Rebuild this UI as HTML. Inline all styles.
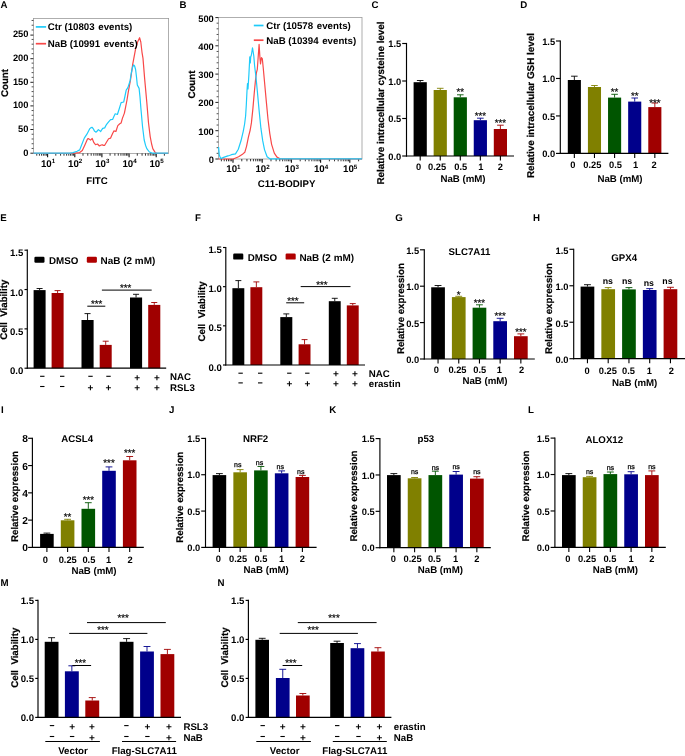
<!DOCTYPE html>
<html><head><meta charset="utf-8"><title>Figure</title>
<style>
html,body{margin:0;padding:0;background:#fff;}
body{width:685px;height:756px;overflow:hidden;}
svg{display:block;font-family:"Liberation Sans",Arial,Helvetica,sans-serif;}
svg text{text-rendering:geometricPrecision;}
</style></head><body>
<svg width="685" height="756" viewBox="0 0 685 756">
<rect x="0" y="0" width="685" height="756" fill="#ffffff"/>
<text x="0.5" y="7.57" font-size="9.7" text-anchor="start" font-weight="bold" fill="#000">A</text>
<rect x="33.4" y="18.4" width="135.2" height="135" fill="none" stroke="#9a9a9a" stroke-width="0.8"/>
<line x1="30.4" y1="153.2" x2="33.4" y2="153.2" stroke="#222" stroke-width="1"/>
<text x="28.4" y="155.53" font-size="9.3" text-anchor="end" font-weight="bold" fill="#000">0</text>
<line x1="30.4" y1="129.5" x2="33.4" y2="129.5" stroke="#222" stroke-width="1"/>
<text x="28.4" y="131.83" font-size="9.3" text-anchor="end" font-weight="bold" fill="#000">50</text>
<line x1="30.4" y1="105.9" x2="33.4" y2="105.9" stroke="#222" stroke-width="1"/>
<text x="28.4" y="108.23" font-size="9.3" text-anchor="end" font-weight="bold" fill="#000">100</text>
<line x1="30.4" y1="82.3" x2="33.4" y2="82.3" stroke="#222" stroke-width="1"/>
<text x="28.4" y="84.63" font-size="9.3" text-anchor="end" font-weight="bold" fill="#000">150</text>
<line x1="30.4" y1="58.7" x2="33.4" y2="58.7" stroke="#222" stroke-width="1"/>
<text x="28.4" y="61.03" font-size="9.3" text-anchor="end" font-weight="bold" fill="#000">200</text>
<line x1="30.4" y1="35.1" x2="33.4" y2="35.1" stroke="#222" stroke-width="1"/>
<text x="28.4" y="37.43" font-size="9.3" text-anchor="end" font-weight="bold" fill="#000">250</text>
<line x1="31.6" y1="148.46" x2="33.4" y2="148.46" stroke="#222" stroke-width="0.8"/>
<line x1="31.6" y1="143.72" x2="33.4" y2="143.72" stroke="#222" stroke-width="0.8"/>
<line x1="31.6" y1="138.98" x2="33.4" y2="138.98" stroke="#222" stroke-width="0.8"/>
<line x1="31.6" y1="134.24" x2="33.4" y2="134.24" stroke="#222" stroke-width="0.8"/>
<line x1="31.6" y1="124.76" x2="33.4" y2="124.76" stroke="#222" stroke-width="0.8"/>
<line x1="31.6" y1="120.02" x2="33.4" y2="120.02" stroke="#222" stroke-width="0.8"/>
<line x1="31.6" y1="115.28" x2="33.4" y2="115.28" stroke="#222" stroke-width="0.8"/>
<line x1="31.6" y1="110.54" x2="33.4" y2="110.54" stroke="#222" stroke-width="0.8"/>
<line x1="31.6" y1="101.06" x2="33.4" y2="101.06" stroke="#222" stroke-width="0.8"/>
<line x1="31.6" y1="96.32" x2="33.4" y2="96.32" stroke="#222" stroke-width="0.8"/>
<line x1="31.6" y1="91.58" x2="33.4" y2="91.58" stroke="#222" stroke-width="0.8"/>
<line x1="31.6" y1="86.84" x2="33.4" y2="86.84" stroke="#222" stroke-width="0.8"/>
<line x1="31.6" y1="77.36" x2="33.4" y2="77.36" stroke="#222" stroke-width="0.8"/>
<line x1="31.6" y1="72.62" x2="33.4" y2="72.62" stroke="#222" stroke-width="0.8"/>
<line x1="31.6" y1="67.88" x2="33.4" y2="67.88" stroke="#222" stroke-width="0.8"/>
<line x1="31.6" y1="63.14" x2="33.4" y2="63.14" stroke="#222" stroke-width="0.8"/>
<line x1="31.6" y1="53.66" x2="33.4" y2="53.66" stroke="#222" stroke-width="0.8"/>
<line x1="31.6" y1="48.92" x2="33.4" y2="48.92" stroke="#222" stroke-width="0.8"/>
<line x1="31.6" y1="44.18" x2="33.4" y2="44.18" stroke="#222" stroke-width="0.8"/>
<line x1="31.6" y1="39.44" x2="33.4" y2="39.44" stroke="#222" stroke-width="0.8"/>
<line x1="31.6" y1="29.96" x2="33.4" y2="29.96" stroke="#222" stroke-width="0.8"/>
<line x1="31.6" y1="25.22" x2="33.4" y2="25.22" stroke="#222" stroke-width="0.8"/>
<line x1="31.6" y1="20.48" x2="33.4" y2="20.48" stroke="#222" stroke-width="0.8"/>
<line x1="47.6" y1="153.4" x2="47.6" y2="157.2" stroke="#111" stroke-width="1.1"/>
<text x="48" y="166.77" font-size="9.7" font-weight="bold" text-anchor="middle">10<tspan dy="-3.6" font-size="6.2">1</tspan></text>
<line x1="55.79" y1="153.4" x2="55.79" y2="155.7" stroke="#111" stroke-width="0.85"/>
<line x1="60.58" y1="153.4" x2="60.58" y2="155.7" stroke="#111" stroke-width="0.85"/>
<line x1="63.98" y1="153.4" x2="63.98" y2="155.7" stroke="#111" stroke-width="0.85"/>
<line x1="66.61" y1="153.4" x2="66.61" y2="155.7" stroke="#111" stroke-width="0.85"/>
<line x1="68.77" y1="153.4" x2="68.77" y2="155.7" stroke="#111" stroke-width="0.85"/>
<line x1="70.59" y1="153.4" x2="70.59" y2="155.7" stroke="#111" stroke-width="0.85"/>
<line x1="72.16" y1="153.4" x2="72.16" y2="155.7" stroke="#111" stroke-width="0.85"/>
<line x1="73.56" y1="153.4" x2="73.56" y2="155.7" stroke="#111" stroke-width="0.85"/>
<line x1="74.8" y1="153.4" x2="74.8" y2="157.2" stroke="#111" stroke-width="1.1"/>
<text x="75.2" y="166.77" font-size="9.7" font-weight="bold" text-anchor="middle">10<tspan dy="-3.6" font-size="6.2">2</tspan></text>
<line x1="82.99" y1="153.4" x2="82.99" y2="155.7" stroke="#111" stroke-width="0.85"/>
<line x1="87.78" y1="153.4" x2="87.78" y2="155.7" stroke="#111" stroke-width="0.85"/>
<line x1="91.18" y1="153.4" x2="91.18" y2="155.7" stroke="#111" stroke-width="0.85"/>
<line x1="93.81" y1="153.4" x2="93.81" y2="155.7" stroke="#111" stroke-width="0.85"/>
<line x1="95.97" y1="153.4" x2="95.97" y2="155.7" stroke="#111" stroke-width="0.85"/>
<line x1="97.79" y1="153.4" x2="97.79" y2="155.7" stroke="#111" stroke-width="0.85"/>
<line x1="99.36" y1="153.4" x2="99.36" y2="155.7" stroke="#111" stroke-width="0.85"/>
<line x1="100.76" y1="153.4" x2="100.76" y2="155.7" stroke="#111" stroke-width="0.85"/>
<line x1="101.9" y1="153.4" x2="101.9" y2="157.2" stroke="#111" stroke-width="1.1"/>
<text x="102.3" y="166.77" font-size="9.7" font-weight="bold" text-anchor="middle">10<tspan dy="-3.6" font-size="6.2">3</tspan></text>
<line x1="110.09" y1="153.4" x2="110.09" y2="155.7" stroke="#111" stroke-width="0.85"/>
<line x1="114.88" y1="153.4" x2="114.88" y2="155.7" stroke="#111" stroke-width="0.85"/>
<line x1="118.28" y1="153.4" x2="118.28" y2="155.7" stroke="#111" stroke-width="0.85"/>
<line x1="120.91" y1="153.4" x2="120.91" y2="155.7" stroke="#111" stroke-width="0.85"/>
<line x1="123.07" y1="153.4" x2="123.07" y2="155.7" stroke="#111" stroke-width="0.85"/>
<line x1="124.89" y1="153.4" x2="124.89" y2="155.7" stroke="#111" stroke-width="0.85"/>
<line x1="126.46" y1="153.4" x2="126.46" y2="155.7" stroke="#111" stroke-width="0.85"/>
<line x1="127.86" y1="153.4" x2="127.86" y2="155.7" stroke="#111" stroke-width="0.85"/>
<line x1="129.1" y1="153.4" x2="129.1" y2="157.2" stroke="#111" stroke-width="1.1"/>
<text x="129.5" y="166.77" font-size="9.7" font-weight="bold" text-anchor="middle">10<tspan dy="-3.6" font-size="6.2">4</tspan></text>
<line x1="137.29" y1="153.4" x2="137.29" y2="155.7" stroke="#111" stroke-width="0.85"/>
<line x1="142.08" y1="153.4" x2="142.08" y2="155.7" stroke="#111" stroke-width="0.85"/>
<line x1="145.48" y1="153.4" x2="145.48" y2="155.7" stroke="#111" stroke-width="0.85"/>
<line x1="148.11" y1="153.4" x2="148.11" y2="155.7" stroke="#111" stroke-width="0.85"/>
<line x1="150.27" y1="153.4" x2="150.27" y2="155.7" stroke="#111" stroke-width="0.85"/>
<line x1="152.09" y1="153.4" x2="152.09" y2="155.7" stroke="#111" stroke-width="0.85"/>
<line x1="153.66" y1="153.4" x2="153.66" y2="155.7" stroke="#111" stroke-width="0.85"/>
<line x1="155.06" y1="153.4" x2="155.06" y2="155.7" stroke="#111" stroke-width="0.85"/>
<line x1="156.2" y1="153.4" x2="156.2" y2="157.2" stroke="#111" stroke-width="1.1"/>
<text x="156.6" y="166.77" font-size="9.7" font-weight="bold" text-anchor="middle">10<tspan dy="-3.6" font-size="6.2">5</tspan></text>
<line x1="164.39" y1="153.4" x2="164.39" y2="155.7" stroke="#111" stroke-width="0.85"/>
<line x1="36.78" y1="153.4" x2="36.78" y2="155.7" stroke="#111" stroke-width="0.85"/>
<line x1="39.41" y1="153.4" x2="39.41" y2="155.7" stroke="#111" stroke-width="0.85"/>
<line x1="41.57" y1="153.4" x2="41.57" y2="155.7" stroke="#111" stroke-width="0.85"/>
<line x1="43.39" y1="153.4" x2="43.39" y2="155.7" stroke="#111" stroke-width="0.85"/>
<line x1="44.96" y1="153.4" x2="44.96" y2="155.7" stroke="#111" stroke-width="0.85"/>
<line x1="46.36" y1="153.4" x2="46.36" y2="155.7" stroke="#111" stroke-width="0.85"/>
<polyline fill="none" stroke="#f84848" stroke-width="1.2" stroke-linejoin="round" points="33.4,153.4 72,153.4 74.5,153.2 79.7,152.6 82.3,150.6 85,144.7 87.6,138.8 88.6,138.6 89.6,139.4 90.5,140.1 92.2,138.5 93.9,142.7 95.5,144.7 97.5,144 99.4,146 100.7,145.2 102.1,144.7 103.4,145.4 104.7,145.3 106.6,142 108.6,138.8 110.6,138.1 112.6,133.5 113.9,130.9 115.9,131.5 117.8,125.6 119.8,123.7 121.1,123 122.4,118.4 124.4,113.1 125.7,106.6 127,100 128.3,91.9 130.5,79.8 132.7,64.4 135.6,48.9 137.6,42 139.6,37.7 140.8,42 142,52.3 143,58.4 144.6,78.1 146.8,102.2 148.5,122.8 150.2,136.6 151.5,143.5 152.8,148.6 155.4,152.9 157.1,153.4 168,153.4"/>
<polyline fill="none" stroke="#1ecbfa" stroke-width="1.2" stroke-linejoin="round" points="33.4,153.2 70,153.2 73.1,152.6 77.1,151.2 79.7,149.9 81.7,144.7 84.3,138.1 86.9,134.2 89.6,128.9 91,127.6 92.2,127.3 93.3,128.8 94.4,130.9 96.1,132.2 97.2,131 98.4,129.6 100.7,131.5 101.7,129.8 102.7,128.3 104.7,127.9 106.6,124.3 108.6,121.8 110.6,119.7 112.6,119.4 113.9,116.4 115.2,113.8 117.4,114.5 119.1,109.2 121.1,102.6 123.7,102 125,96 126.2,90.2 127.9,87.6 130.1,80.7 131.3,73 132.5,67.5 133.6,64.9 134.6,66 135.6,69.5 136.5,77 137.3,85 139.1,88.4 140,97 140.8,107.3 142.5,126.3 144.2,140 145.5,145.2 146.8,148.6 149.4,152 152.8,153.2 168,153.2"/>
<line x1="35.8" y1="26.9" x2="46.1" y2="26.9" stroke="#1ecbfa" stroke-width="1.7"/>
<line x1="35.8" y1="43.7" x2="46.1" y2="43.7" stroke="#f84848" stroke-width="1.7"/>
<text x="47.8" y="29.87" font-size="9.7" text-anchor="start" font-weight="bold" fill="#000" xml:space="preserve">Ctr (10803 <tspan dx="1">events)</tspan></text>
<text x="47.8" y="46.67" font-size="9.7" text-anchor="start" font-weight="bold" fill="#000" xml:space="preserve">NaB (10991 <tspan dx="1">events)</tspan></text>
<text x="97" y="183.57" font-size="9.7" text-anchor="middle" font-weight="bold" fill="#000">FITC</text>
<text x="4" y="86.87" font-size="9.7" text-anchor="middle" font-weight="bold" fill="#000" transform="rotate(-90 4 83)" stroke="#000" stroke-width="0.2">Count</text>
<text x="179.5" y="8.07" font-size="9.7" text-anchor="start" font-weight="bold" fill="#000">B</text>
<rect x="218.4" y="17.4" width="143.6" height="141.6" fill="none" stroke="#9a9a9a" stroke-width="0.8"/>
<line x1="215.4" y1="159" x2="218.4" y2="159" stroke="#222" stroke-width="1"/>
<text x="213.8" y="163.03" font-size="9.3" text-anchor="end" font-weight="bold" fill="#000">0</text>
<line x1="215.4" y1="130.7" x2="218.4" y2="130.7" stroke="#222" stroke-width="1"/>
<text x="213.8" y="134.73" font-size="9.3" text-anchor="end" font-weight="bold" fill="#000">100</text>
<line x1="215.4" y1="102.4" x2="218.4" y2="102.4" stroke="#222" stroke-width="1"/>
<text x="213.8" y="106.43" font-size="9.3" text-anchor="end" font-weight="bold" fill="#000">200</text>
<line x1="215.4" y1="74.1" x2="218.4" y2="74.1" stroke="#222" stroke-width="1"/>
<text x="213.8" y="78.13" font-size="9.3" text-anchor="end" font-weight="bold" fill="#000">300</text>
<line x1="215.4" y1="45.8" x2="218.4" y2="45.8" stroke="#222" stroke-width="1"/>
<text x="213.8" y="49.83" font-size="9.3" text-anchor="end" font-weight="bold" fill="#000">400</text>
<line x1="215.4" y1="17.6" x2="218.4" y2="17.6" stroke="#222" stroke-width="1"/>
<text x="213.8" y="21.63" font-size="9.3" text-anchor="end" font-weight="bold" fill="#000">500</text>
<line x1="216.6" y1="153.34" x2="218.4" y2="153.34" stroke="#222" stroke-width="0.8"/>
<line x1="216.6" y1="147.68" x2="218.4" y2="147.68" stroke="#222" stroke-width="0.8"/>
<line x1="216.6" y1="142.02" x2="218.4" y2="142.02" stroke="#222" stroke-width="0.8"/>
<line x1="216.6" y1="136.36" x2="218.4" y2="136.36" stroke="#222" stroke-width="0.8"/>
<line x1="216.6" y1="125.04" x2="218.4" y2="125.04" stroke="#222" stroke-width="0.8"/>
<line x1="216.6" y1="119.38" x2="218.4" y2="119.38" stroke="#222" stroke-width="0.8"/>
<line x1="216.6" y1="113.72" x2="218.4" y2="113.72" stroke="#222" stroke-width="0.8"/>
<line x1="216.6" y1="108.06" x2="218.4" y2="108.06" stroke="#222" stroke-width="0.8"/>
<line x1="216.6" y1="96.74" x2="218.4" y2="96.74" stroke="#222" stroke-width="0.8"/>
<line x1="216.6" y1="91.08" x2="218.4" y2="91.08" stroke="#222" stroke-width="0.8"/>
<line x1="216.6" y1="85.42" x2="218.4" y2="85.42" stroke="#222" stroke-width="0.8"/>
<line x1="216.6" y1="79.76" x2="218.4" y2="79.76" stroke="#222" stroke-width="0.8"/>
<line x1="216.6" y1="68.44" x2="218.4" y2="68.44" stroke="#222" stroke-width="0.8"/>
<line x1="216.6" y1="62.78" x2="218.4" y2="62.78" stroke="#222" stroke-width="0.8"/>
<line x1="216.6" y1="57.12" x2="218.4" y2="57.12" stroke="#222" stroke-width="0.8"/>
<line x1="216.6" y1="51.46" x2="218.4" y2="51.46" stroke="#222" stroke-width="0.8"/>
<line x1="216.6" y1="40.14" x2="218.4" y2="40.14" stroke="#222" stroke-width="0.8"/>
<line x1="216.6" y1="34.48" x2="218.4" y2="34.48" stroke="#222" stroke-width="0.8"/>
<line x1="216.6" y1="28.82" x2="218.4" y2="28.82" stroke="#222" stroke-width="0.8"/>
<line x1="216.6" y1="23.16" x2="218.4" y2="23.16" stroke="#222" stroke-width="0.8"/>
<line x1="233" y1="159" x2="233" y2="162.8" stroke="#111" stroke-width="1.1"/>
<text x="233.4" y="172.47" font-size="9.7" font-weight="bold" text-anchor="middle">10<tspan dy="-3.6" font-size="6.2">1</tspan></text>
<line x1="241.79" y1="159" x2="241.79" y2="161.3" stroke="#111" stroke-width="0.85"/>
<line x1="246.93" y1="159" x2="246.93" y2="161.3" stroke="#111" stroke-width="0.85"/>
<line x1="250.58" y1="159" x2="250.58" y2="161.3" stroke="#111" stroke-width="0.85"/>
<line x1="253.41" y1="159" x2="253.41" y2="161.3" stroke="#111" stroke-width="0.85"/>
<line x1="255.72" y1="159" x2="255.72" y2="161.3" stroke="#111" stroke-width="0.85"/>
<line x1="257.68" y1="159" x2="257.68" y2="161.3" stroke="#111" stroke-width="0.85"/>
<line x1="259.37" y1="159" x2="259.37" y2="161.3" stroke="#111" stroke-width="0.85"/>
<line x1="260.86" y1="159" x2="260.86" y2="161.3" stroke="#111" stroke-width="0.85"/>
<line x1="262.2" y1="159" x2="262.2" y2="162.8" stroke="#111" stroke-width="1.1"/>
<text x="262.6" y="172.47" font-size="9.7" font-weight="bold" text-anchor="middle">10<tspan dy="-3.6" font-size="6.2">2</tspan></text>
<line x1="270.99" y1="159" x2="270.99" y2="161.3" stroke="#111" stroke-width="0.85"/>
<line x1="276.13" y1="159" x2="276.13" y2="161.3" stroke="#111" stroke-width="0.85"/>
<line x1="279.78" y1="159" x2="279.78" y2="161.3" stroke="#111" stroke-width="0.85"/>
<line x1="282.61" y1="159" x2="282.61" y2="161.3" stroke="#111" stroke-width="0.85"/>
<line x1="284.92" y1="159" x2="284.92" y2="161.3" stroke="#111" stroke-width="0.85"/>
<line x1="286.88" y1="159" x2="286.88" y2="161.3" stroke="#111" stroke-width="0.85"/>
<line x1="288.57" y1="159" x2="288.57" y2="161.3" stroke="#111" stroke-width="0.85"/>
<line x1="290.06" y1="159" x2="290.06" y2="161.3" stroke="#111" stroke-width="0.85"/>
<line x1="291.4" y1="159" x2="291.4" y2="162.8" stroke="#111" stroke-width="1.1"/>
<text x="291.8" y="172.47" font-size="9.7" font-weight="bold" text-anchor="middle">10<tspan dy="-3.6" font-size="6.2">3</tspan></text>
<line x1="300.19" y1="159" x2="300.19" y2="161.3" stroke="#111" stroke-width="0.85"/>
<line x1="305.33" y1="159" x2="305.33" y2="161.3" stroke="#111" stroke-width="0.85"/>
<line x1="308.98" y1="159" x2="308.98" y2="161.3" stroke="#111" stroke-width="0.85"/>
<line x1="311.81" y1="159" x2="311.81" y2="161.3" stroke="#111" stroke-width="0.85"/>
<line x1="314.12" y1="159" x2="314.12" y2="161.3" stroke="#111" stroke-width="0.85"/>
<line x1="316.08" y1="159" x2="316.08" y2="161.3" stroke="#111" stroke-width="0.85"/>
<line x1="317.77" y1="159" x2="317.77" y2="161.3" stroke="#111" stroke-width="0.85"/>
<line x1="319.26" y1="159" x2="319.26" y2="161.3" stroke="#111" stroke-width="0.85"/>
<line x1="320.6" y1="159" x2="320.6" y2="162.8" stroke="#111" stroke-width="1.1"/>
<text x="321" y="172.47" font-size="9.7" font-weight="bold" text-anchor="middle">10<tspan dy="-3.6" font-size="6.2">4</tspan></text>
<line x1="329.39" y1="159" x2="329.39" y2="161.3" stroke="#111" stroke-width="0.85"/>
<line x1="334.53" y1="159" x2="334.53" y2="161.3" stroke="#111" stroke-width="0.85"/>
<line x1="338.18" y1="159" x2="338.18" y2="161.3" stroke="#111" stroke-width="0.85"/>
<line x1="341.01" y1="159" x2="341.01" y2="161.3" stroke="#111" stroke-width="0.85"/>
<line x1="343.32" y1="159" x2="343.32" y2="161.3" stroke="#111" stroke-width="0.85"/>
<line x1="345.28" y1="159" x2="345.28" y2="161.3" stroke="#111" stroke-width="0.85"/>
<line x1="346.97" y1="159" x2="346.97" y2="161.3" stroke="#111" stroke-width="0.85"/>
<line x1="348.46" y1="159" x2="348.46" y2="161.3" stroke="#111" stroke-width="0.85"/>
<line x1="349.8" y1="159" x2="349.8" y2="162.8" stroke="#111" stroke-width="1.1"/>
<text x="350.2" y="172.47" font-size="9.7" font-weight="bold" text-anchor="middle">10<tspan dy="-3.6" font-size="6.2">5</tspan></text>
<line x1="358.59" y1="159" x2="358.59" y2="161.3" stroke="#111" stroke-width="0.85"/>
<line x1="221.38" y1="159" x2="221.38" y2="161.3" stroke="#111" stroke-width="0.85"/>
<line x1="224.21" y1="159" x2="224.21" y2="161.3" stroke="#111" stroke-width="0.85"/>
<line x1="226.52" y1="159" x2="226.52" y2="161.3" stroke="#111" stroke-width="0.85"/>
<line x1="228.48" y1="159" x2="228.48" y2="161.3" stroke="#111" stroke-width="0.85"/>
<line x1="230.17" y1="159" x2="230.17" y2="161.3" stroke="#111" stroke-width="0.85"/>
<line x1="231.66" y1="159" x2="231.66" y2="161.3" stroke="#111" stroke-width="0.85"/>
<polyline fill="none" stroke="#f84848" stroke-width="1.2" stroke-linejoin="round" points="218.6,159 233.2,159 238.6,156.8 242.1,154.6 244.8,152.3 246.6,146.1 248.4,137.1 250.2,130 251.4,122.9 252.9,108.6 254.3,92.5 255.5,80 256.4,72.9 257.3,69.3 258.2,56.8 259.1,44.3 260,58.6 260.5,63.9 261.4,57.7 262.3,58.6 263.2,67.5 264.5,81.8 266.3,101.4 268,119.3 269.8,133.6 271.6,144.3 274.3,153.2 277,157.1 280.5,159 362,159"/>
<polyline fill="none" stroke="#1ecbfa" stroke-width="1.2" stroke-linejoin="round" points="218.6,147 219.3,155 220.7,158.6 224.3,157.1 227.9,155.9 229.5,155.5 231.4,154.7 235.5,153.9 238.3,149.2 241,140.8 243.3,131.1 244.6,124 245.6,116 246.3,105 247,90.7 247.5,83.6 248,88.9 248.9,74.6 249.8,56.8 250.3,63 250.7,57 251.4,55 252.5,47.9 253.2,52 253.8,56 254.6,65.7 256.1,78.2 257.3,90.7 259.1,110.4 260.9,128.2 262.7,140.7 264.5,149.6 267.1,156.8 269.8,158.8 362,158.8"/>
<line x1="253.8" y1="25.5" x2="263.5" y2="25.5" stroke="#1ecbfa" stroke-width="1.7"/>
<line x1="253.8" y1="40.2" x2="263.5" y2="40.2" stroke="#f84848" stroke-width="1.7"/>
<text x="266.3" y="29.07" font-size="9.7" text-anchor="start" font-weight="bold" fill="#000" xml:space="preserve">Ctr (10578 <tspan dx="1">events)</tspan></text>
<text x="266.3" y="43.77" font-size="9.7" text-anchor="start" font-weight="bold" fill="#000" xml:space="preserve">NaB (10394 <tspan dx="1">events)</tspan></text>
<text x="286.6" y="186.87" font-size="9.7" text-anchor="middle" font-weight="bold" fill="#000">C11-BODIPY</text>
<text x="191" y="88.47" font-size="9.7" text-anchor="middle" font-weight="bold" fill="#000" transform="rotate(-90 191 84.6)" stroke="#000" stroke-width="0.2">Count</text>
<text x="371.6" y="8.27" font-size="9.7" text-anchor="start" font-weight="bold" fill="#000">C</text>
<rect x="413.6" y="82.2" width="13.2" height="73.8" fill="#000000"/>
<line x1="420.2" y1="82.2" x2="420.2" y2="80.5" stroke="#000000" stroke-width="0.9"/>
<line x1="416.9" y1="80.5" x2="423.5" y2="80.5" stroke="#000000" stroke-width="0.9"/>
<rect x="433.65" y="90" width="13.2" height="66" fill="#808000"/>
<line x1="440.25" y1="90" x2="440.25" y2="88.3" stroke="#808000" stroke-width="0.9"/>
<line x1="436.95" y1="88.3" x2="443.55" y2="88.3" stroke="#808000" stroke-width="0.9"/>
<rect x="453.7" y="97.3" width="13.2" height="58.7" fill="#005500"/>
<line x1="460.3" y1="97.3" x2="460.3" y2="94.8" stroke="#005500" stroke-width="0.9"/>
<line x1="457" y1="94.8" x2="463.6" y2="94.8" stroke="#005500" stroke-width="0.9"/>
<rect x="473.75" y="120.2" width="13.2" height="35.8" fill="#00008b"/>
<line x1="480.35" y1="120.2" x2="480.35" y2="118.2" stroke="#00008b" stroke-width="0.9"/>
<line x1="477.05" y1="118.2" x2="483.65" y2="118.2" stroke="#00008b" stroke-width="0.9"/>
<rect x="493.8" y="129" width="13.2" height="27" fill="#a00000"/>
<line x1="500.4" y1="129" x2="500.4" y2="125.2" stroke="#a00000" stroke-width="0.9"/>
<line x1="497.1" y1="125.2" x2="503.7" y2="125.2" stroke="#a00000" stroke-width="0.9"/>
<line x1="406.5" y1="42.92" x2="406.5" y2="156.57" stroke="#000" stroke-width="1.15"/>
<line x1="402.2" y1="43.5" x2="406.5" y2="43.5" stroke="#000" stroke-width="1.15"/>
<text x="401.3" y="47.23" font-size="9.3" text-anchor="end" font-weight="bold" fill="#000">1.5</text>
<line x1="402.2" y1="81" x2="406.5" y2="81" stroke="#000" stroke-width="1.15"/>
<text x="401.3" y="84.73" font-size="9.3" text-anchor="end" font-weight="bold" fill="#000">1.0</text>
<line x1="402.2" y1="118.5" x2="406.5" y2="118.5" stroke="#000" stroke-width="1.15"/>
<text x="401.3" y="122.23" font-size="9.3" text-anchor="end" font-weight="bold" fill="#000">0.5</text>
<line x1="402.2" y1="156" x2="406.5" y2="156" stroke="#000" stroke-width="1.15"/>
<text x="401.3" y="159.73" font-size="9.3" text-anchor="end" font-weight="bold" fill="#000">0.0</text>
<line x1="406" y1="156" x2="514" y2="156" stroke="#000" stroke-width="1.2"/>
<line x1="420.2" y1="156" x2="420.2" y2="160.6" stroke="#000" stroke-width="1.1"/>
<text x="418.6" y="169.93" font-size="9.3" text-anchor="middle" font-weight="bold" fill="#000">0</text>
<line x1="440.25" y1="156" x2="440.25" y2="160.6" stroke="#000" stroke-width="1.1"/>
<text x="437.05" y="169.93" font-size="9.3" text-anchor="middle" font-weight="bold" fill="#000">0.25</text>
<line x1="460.3" y1="156" x2="460.3" y2="160.6" stroke="#000" stroke-width="1.1"/>
<text x="460.7" y="169.93" font-size="9.3" text-anchor="middle" font-weight="bold" fill="#000">0.5</text>
<line x1="480.35" y1="156" x2="480.35" y2="160.6" stroke="#000" stroke-width="1.1"/>
<text x="480.95" y="169.93" font-size="9.3" text-anchor="middle" font-weight="bold" fill="#000">1</text>
<line x1="500.4" y1="156" x2="500.4" y2="160.6" stroke="#000" stroke-width="1.1"/>
<text x="500.4" y="169.93" font-size="9.3" text-anchor="middle" font-weight="bold" fill="#000">2</text>
<text x="463" y="181.87" font-size="9.7" text-anchor="middle" font-weight="bold" fill="#000">NaB (mM)</text>
<text x="380" y="106.93" font-size="9.85" text-anchor="middle" font-weight="bold" fill="#000" transform="rotate(-90 380 103)" stroke="#000" stroke-width="0.2">Relative intracellular cysteine level</text>
<text x="460.3" y="95.21" font-size="9.7" text-anchor="middle" font-weight="normal" fill="#000" stroke="#000" stroke-width="0.2">**</text>
<text x="480.35" y="119.21" font-size="9.7" text-anchor="middle" font-weight="normal" fill="#000" stroke="#000" stroke-width="0.2">***</text>
<text x="500.4" y="126.41" font-size="9.7" text-anchor="middle" font-weight="normal" fill="#000" stroke="#000" stroke-width="0.2">***</text>
<text x="520.3" y="8.27" font-size="9.7" text-anchor="start" font-weight="bold" fill="#000">D</text>
<rect x="567.8" y="80" width="13.1" height="73.4" fill="#000000"/>
<line x1="574.35" y1="80" x2="574.35" y2="76.2" stroke="#000000" stroke-width="0.9"/>
<line x1="571.07" y1="76.2" x2="577.62" y2="76.2" stroke="#000000" stroke-width="0.9"/>
<rect x="587.92" y="87" width="13.1" height="66.4" fill="#808000"/>
<line x1="594.47" y1="87" x2="594.47" y2="85.5" stroke="#808000" stroke-width="0.9"/>
<line x1="591.2" y1="85.5" x2="597.75" y2="85.5" stroke="#808000" stroke-width="0.9"/>
<rect x="608.04" y="97.6" width="13.1" height="55.8" fill="#005500"/>
<line x1="614.59" y1="97.6" x2="614.59" y2="94.3" stroke="#005500" stroke-width="0.9"/>
<line x1="611.31" y1="94.3" x2="617.86" y2="94.3" stroke="#005500" stroke-width="0.9"/>
<rect x="628.16" y="101.6" width="13.1" height="51.8" fill="#00008b"/>
<line x1="634.71" y1="101.6" x2="634.71" y2="98" stroke="#00008b" stroke-width="0.9"/>
<line x1="631.44" y1="98" x2="637.99" y2="98" stroke="#00008b" stroke-width="0.9"/>
<rect x="648.28" y="107.1" width="13.1" height="46.3" fill="#a00000"/>
<line x1="654.83" y1="107.1" x2="654.83" y2="103" stroke="#a00000" stroke-width="0.9"/>
<line x1="651.55" y1="103" x2="658.1" y2="103" stroke="#a00000" stroke-width="0.9"/>
<line x1="560.3" y1="40.42" x2="560.3" y2="153.97" stroke="#000" stroke-width="1.15"/>
<line x1="556" y1="41" x2="560.3" y2="41" stroke="#000" stroke-width="1.15"/>
<text x="555.1" y="44.73" font-size="9.3" text-anchor="end" font-weight="bold" fill="#000">1.5</text>
<line x1="556" y1="78.47" x2="560.3" y2="78.47" stroke="#000" stroke-width="1.15"/>
<text x="555.1" y="82.2" font-size="9.3" text-anchor="end" font-weight="bold" fill="#000">1.0</text>
<line x1="556" y1="115.93" x2="560.3" y2="115.93" stroke="#000" stroke-width="1.15"/>
<text x="555.1" y="119.66" font-size="9.3" text-anchor="end" font-weight="bold" fill="#000">0.5</text>
<line x1="556" y1="153.4" x2="560.3" y2="153.4" stroke="#000" stroke-width="1.15"/>
<text x="555.1" y="157.13" font-size="9.3" text-anchor="end" font-weight="bold" fill="#000">0.0</text>
<line x1="559.8" y1="153.4" x2="668.4" y2="153.4" stroke="#000" stroke-width="1.2"/>
<line x1="574.35" y1="153.4" x2="574.35" y2="158" stroke="#000" stroke-width="1.1"/>
<text x="572.75" y="167.93" font-size="9.3" text-anchor="middle" font-weight="bold" fill="#000">0</text>
<line x1="594.47" y1="153.4" x2="594.47" y2="158" stroke="#000" stroke-width="1.1"/>
<text x="592.37" y="167.93" font-size="9.3" text-anchor="middle" font-weight="bold" fill="#000">0.25</text>
<line x1="614.59" y1="153.4" x2="614.59" y2="158" stroke="#000" stroke-width="1.1"/>
<text x="615.49" y="167.93" font-size="9.3" text-anchor="middle" font-weight="bold" fill="#000">0.5</text>
<line x1="634.71" y1="153.4" x2="634.71" y2="158" stroke="#000" stroke-width="1.1"/>
<text x="635.61" y="167.93" font-size="9.3" text-anchor="middle" font-weight="bold" fill="#000">1</text>
<line x1="654.83" y1="153.4" x2="654.83" y2="158" stroke="#000" stroke-width="1.1"/>
<text x="654.13" y="167.93" font-size="9.3" text-anchor="middle" font-weight="bold" fill="#000">2</text>
<text x="620" y="182.47" font-size="9.7" text-anchor="middle" font-weight="bold" fill="#000">NaB (mM)</text>
<text x="530.3" y="109.53" font-size="9.85" text-anchor="middle" font-weight="bold" fill="#000" transform="rotate(-90 530.3 105.6)" stroke="#000" stroke-width="0.2">Relative intracellular GSH level</text>
<text x="614.59" y="94.61" font-size="9.7" text-anchor="middle" font-weight="normal" fill="#000" stroke="#000" stroke-width="0.2">**</text>
<text x="634.71" y="99.11" font-size="9.7" text-anchor="middle" font-weight="normal" fill="#000" stroke="#000" stroke-width="0.2">**</text>
<text x="654.83" y="105.61" font-size="9.7" text-anchor="middle" font-weight="normal" fill="#000" stroke="#000" stroke-width="0.2">***</text>
<text x="395.2" y="220.77" font-size="9.7" text-anchor="start" font-weight="bold" fill="#000">G</text>
<rect x="431.2" y="287.3" width="13.7" height="71.7" fill="#000000"/>
<line x1="438.05" y1="287.3" x2="438.05" y2="285.5" stroke="#000000" stroke-width="0.9"/>
<line x1="434.62" y1="285.5" x2="441.47" y2="285.5" stroke="#000000" stroke-width="0.9"/>
<rect x="451.9" y="297.1" width="13.7" height="61.9" fill="#808000"/>
<line x1="458.75" y1="297.1" x2="458.75" y2="296.3" stroke="#808000" stroke-width="0.9"/>
<line x1="455.32" y1="296.3" x2="462.18" y2="296.3" stroke="#808000" stroke-width="0.9"/>
<rect x="472.6" y="307.7" width="13.7" height="51.3" fill="#005500"/>
<line x1="479.45" y1="307.7" x2="479.45" y2="304.8" stroke="#005500" stroke-width="0.9"/>
<line x1="476.02" y1="304.8" x2="482.87" y2="304.8" stroke="#005500" stroke-width="0.9"/>
<rect x="493.3" y="321.2" width="13.7" height="37.8" fill="#00008b"/>
<line x1="500.15" y1="321.2" x2="500.15" y2="318.3" stroke="#00008b" stroke-width="0.9"/>
<line x1="496.72" y1="318.3" x2="503.57" y2="318.3" stroke="#00008b" stroke-width="0.9"/>
<rect x="514" y="336.2" width="13.7" height="22.8" fill="#a00000"/>
<line x1="520.85" y1="336.2" x2="520.85" y2="333.9" stroke="#a00000" stroke-width="0.9"/>
<line x1="517.42" y1="333.9" x2="524.28" y2="333.9" stroke="#a00000" stroke-width="0.9"/>
<line x1="424.3" y1="249.23" x2="424.3" y2="359.57" stroke="#000" stroke-width="1.15"/>
<line x1="420" y1="249.8" x2="424.3" y2="249.8" stroke="#000" stroke-width="1.15"/>
<text x="419.1" y="253.83" font-size="9.3" text-anchor="end" font-weight="bold" fill="#000">1.5</text>
<line x1="420" y1="286.2" x2="424.3" y2="286.2" stroke="#000" stroke-width="1.15"/>
<text x="419.1" y="290.23" font-size="9.3" text-anchor="end" font-weight="bold" fill="#000">1.0</text>
<line x1="420" y1="322.6" x2="424.3" y2="322.6" stroke="#000" stroke-width="1.15"/>
<text x="419.1" y="326.63" font-size="9.3" text-anchor="end" font-weight="bold" fill="#000">0.5</text>
<line x1="420" y1="359" x2="424.3" y2="359" stroke="#000" stroke-width="1.15"/>
<text x="419.1" y="363.03" font-size="9.3" text-anchor="end" font-weight="bold" fill="#000">0.0</text>
<line x1="423.8" y1="359" x2="534.8" y2="359" stroke="#000" stroke-width="1.2"/>
<line x1="438.05" y1="359" x2="438.05" y2="363.6" stroke="#000" stroke-width="1.1"/>
<text x="436.35" y="372.83" font-size="9.3" text-anchor="middle" font-weight="bold" fill="#000">0</text>
<line x1="458.75" y1="359" x2="458.75" y2="363.6" stroke="#000" stroke-width="1.1"/>
<text x="457.45" y="372.83" font-size="9.3" text-anchor="middle" font-weight="bold" fill="#000">0.25</text>
<line x1="479.45" y1="359" x2="479.45" y2="363.6" stroke="#000" stroke-width="1.1"/>
<text x="479.75" y="372.83" font-size="9.3" text-anchor="middle" font-weight="bold" fill="#000">0.5</text>
<line x1="500.15" y1="359" x2="500.15" y2="363.6" stroke="#000" stroke-width="1.1"/>
<text x="499.35" y="372.83" font-size="9.3" text-anchor="middle" font-weight="bold" fill="#000">1</text>
<line x1="520.85" y1="359" x2="520.85" y2="363.6" stroke="#000" stroke-width="1.1"/>
<text x="521.65" y="372.83" font-size="9.3" text-anchor="middle" font-weight="bold" fill="#000">2</text>
<text x="485" y="384.27" font-size="9.7" text-anchor="middle" font-weight="bold" fill="#000">NaB (mM)</text>
<text x="400" y="312.47" font-size="9.7" text-anchor="middle" font-weight="bold" fill="#000" transform="rotate(-90 400 308.6)" stroke="#000" stroke-width="0.2">Relative expression</text>
<text x="469.5" y="254.97" font-size="9.7" text-anchor="middle" font-weight="bold" fill="#000">SLC7A11</text>
<text x="458.75" y="297.91" font-size="9.7" text-anchor="middle" font-weight="normal" fill="#000" stroke="#000" stroke-width="0.2">*</text>
<text x="479.45" y="305.81" font-size="9.7" text-anchor="middle" font-weight="normal" fill="#000" stroke="#000" stroke-width="0.2">***</text>
<text x="500.15" y="318.81" font-size="9.7" text-anchor="middle" font-weight="normal" fill="#000" stroke="#000" stroke-width="0.2">***</text>
<text x="520.85" y="334.61" font-size="9.7" text-anchor="middle" font-weight="normal" fill="#000" stroke="#000" stroke-width="0.2">***</text>
<text x="533" y="220.77" font-size="9.7" text-anchor="start" font-weight="bold" fill="#000">H</text>
<rect x="580.6" y="286.6" width="13.7" height="72.1" fill="#000000"/>
<line x1="587.45" y1="286.6" x2="587.45" y2="284.7" stroke="#000000" stroke-width="0.9"/>
<line x1="584.03" y1="284.7" x2="590.88" y2="284.7" stroke="#000000" stroke-width="0.9"/>
<rect x="601.35" y="289.2" width="13.7" height="69.5" fill="#808000"/>
<line x1="608.2" y1="289.2" x2="608.2" y2="287.6" stroke="#808000" stroke-width="0.9"/>
<line x1="604.78" y1="287.6" x2="611.62" y2="287.6" stroke="#808000" stroke-width="0.9"/>
<rect x="622.1" y="289.4" width="13.7" height="69.3" fill="#005500"/>
<line x1="628.95" y1="289.4" x2="628.95" y2="287.6" stroke="#005500" stroke-width="0.9"/>
<line x1="625.53" y1="287.6" x2="632.38" y2="287.6" stroke="#005500" stroke-width="0.9"/>
<rect x="642.85" y="290" width="13.7" height="68.7" fill="#00008b"/>
<line x1="649.7" y1="290" x2="649.7" y2="288.6" stroke="#00008b" stroke-width="0.9"/>
<line x1="646.28" y1="288.6" x2="653.12" y2="288.6" stroke="#00008b" stroke-width="0.9"/>
<rect x="663.6" y="289.2" width="13.7" height="69.5" fill="#a00000"/>
<line x1="670.45" y1="289.2" x2="670.45" y2="287.3" stroke="#a00000" stroke-width="0.9"/>
<line x1="667.03" y1="287.3" x2="673.88" y2="287.3" stroke="#a00000" stroke-width="0.9"/>
<line x1="573.7" y1="248.73" x2="573.7" y2="359.27" stroke="#000" stroke-width="1.15"/>
<line x1="569.4" y1="249.3" x2="573.7" y2="249.3" stroke="#000" stroke-width="1.15"/>
<text x="568.5" y="253.93" font-size="9.3" text-anchor="end" font-weight="bold" fill="#000">1.5</text>
<line x1="569.4" y1="285.77" x2="573.7" y2="285.77" stroke="#000" stroke-width="1.15"/>
<text x="568.5" y="290.4" font-size="9.3" text-anchor="end" font-weight="bold" fill="#000">1.0</text>
<line x1="569.4" y1="322.23" x2="573.7" y2="322.23" stroke="#000" stroke-width="1.15"/>
<text x="568.5" y="326.86" font-size="9.3" text-anchor="end" font-weight="bold" fill="#000">0.5</text>
<line x1="569.4" y1="358.7" x2="573.7" y2="358.7" stroke="#000" stroke-width="1.15"/>
<text x="568.5" y="363.33" font-size="9.3" text-anchor="end" font-weight="bold" fill="#000">0.0</text>
<line x1="573.2" y1="358.7" x2="685" y2="358.7" stroke="#000" stroke-width="1.2"/>
<line x1="587.45" y1="358.7" x2="587.45" y2="363.3" stroke="#000" stroke-width="1.1"/>
<text x="587.05" y="374.33" font-size="9.3" text-anchor="middle" font-weight="bold" fill="#000">0</text>
<line x1="608.2" y1="358.7" x2="608.2" y2="363.3" stroke="#000" stroke-width="1.1"/>
<text x="607.8" y="374.33" font-size="9.3" text-anchor="middle" font-weight="bold" fill="#000">0.25</text>
<line x1="628.95" y1="358.7" x2="628.95" y2="363.3" stroke="#000" stroke-width="1.1"/>
<text x="628.55" y="374.33" font-size="9.3" text-anchor="middle" font-weight="bold" fill="#000">0.5</text>
<line x1="649.7" y1="358.7" x2="649.7" y2="363.3" stroke="#000" stroke-width="1.1"/>
<text x="649.3" y="374.33" font-size="9.3" text-anchor="middle" font-weight="bold" fill="#000">1</text>
<line x1="670.45" y1="358.7" x2="670.45" y2="363.3" stroke="#000" stroke-width="1.1"/>
<text x="671.25" y="374.33" font-size="9.3" text-anchor="middle" font-weight="bold" fill="#000">2</text>
<text x="634.7" y="385.87" font-size="9.7" text-anchor="middle" font-weight="bold" fill="#000">NaB (mM)</text>
<text x="548" y="312.47" font-size="9.7" text-anchor="middle" font-weight="bold" fill="#000" transform="rotate(-90 548 308.6)" stroke="#000" stroke-width="0.2">Relative expression</text>
<text x="624.2" y="260.77" font-size="9.7" text-anchor="middle" font-weight="bold" fill="#000">GPX4</text>
<text x="607.8" y="284.35" font-size="8.8" text-anchor="middle" font-weight="bold" fill="#000">ns</text>
<text x="627.15" y="283.95" font-size="8.8" text-anchor="middle" font-weight="bold" fill="#000">ns</text>
<text x="648.8" y="285.85" font-size="8.8" text-anchor="middle" font-weight="bold" fill="#000">ns</text>
<text x="667.45" y="284.05" font-size="8.8" text-anchor="middle" font-weight="bold" fill="#000">ns</text>
<text x="1" y="413.47" font-size="9.7" text-anchor="start" font-weight="bold" fill="#000">I</text>
<rect x="40.1" y="533.9" width="13.6" height="13.5" fill="#000000"/>
<line x1="46.9" y1="533.9" x2="46.9" y2="533.1" stroke="#000000" stroke-width="0.9"/>
<line x1="43.5" y1="533.1" x2="50.3" y2="533.1" stroke="#000000" stroke-width="0.9"/>
<rect x="60.8" y="520.3" width="13.6" height="27.1" fill="#808000"/>
<line x1="67.6" y1="520.3" x2="67.6" y2="519.3" stroke="#808000" stroke-width="0.9"/>
<line x1="64.2" y1="519.3" x2="71" y2="519.3" stroke="#808000" stroke-width="0.9"/>
<rect x="81.5" y="508.8" width="13.6" height="38.6" fill="#005500"/>
<line x1="88.3" y1="508.8" x2="88.3" y2="502.7" stroke="#005500" stroke-width="0.9"/>
<line x1="84.9" y1="502.7" x2="91.7" y2="502.7" stroke="#005500" stroke-width="0.9"/>
<rect x="102.2" y="470.8" width="13.6" height="76.6" fill="#00008b"/>
<line x1="109" y1="470.8" x2="109" y2="466.9" stroke="#00008b" stroke-width="0.9"/>
<line x1="105.6" y1="466.9" x2="112.4" y2="466.9" stroke="#00008b" stroke-width="0.9"/>
<rect x="122.9" y="460.3" width="13.6" height="87.1" fill="#a00000"/>
<line x1="129.7" y1="460.3" x2="129.7" y2="456.5" stroke="#a00000" stroke-width="0.9"/>
<line x1="126.3" y1="456.5" x2="133.1" y2="456.5" stroke="#a00000" stroke-width="0.9"/>
<line x1="32.4" y1="437.73" x2="32.4" y2="547.98" stroke="#000" stroke-width="1.15"/>
<line x1="28.1" y1="438.3" x2="32.4" y2="438.3" stroke="#000" stroke-width="1.15"/>
<text x="27.8" y="442.35" font-size="10.2" text-anchor="end" font-weight="bold" fill="#000">8</text>
<line x1="28.1" y1="465.57" x2="32.4" y2="465.57" stroke="#000" stroke-width="1.15"/>
<text x="27.8" y="469.63" font-size="10.2" text-anchor="end" font-weight="bold" fill="#000">6</text>
<line x1="28.1" y1="492.85" x2="32.4" y2="492.85" stroke="#000" stroke-width="1.15"/>
<text x="27.8" y="496.9" font-size="10.2" text-anchor="end" font-weight="bold" fill="#000">4</text>
<line x1="28.1" y1="520.12" x2="32.4" y2="520.12" stroke="#000" stroke-width="1.15"/>
<text x="27.8" y="524.18" font-size="10.2" text-anchor="end" font-weight="bold" fill="#000">2</text>
<line x1="28.1" y1="547.4" x2="32.4" y2="547.4" stroke="#000" stroke-width="1.15"/>
<text x="27.8" y="551.45" font-size="10.2" text-anchor="end" font-weight="bold" fill="#000">0</text>
<line x1="31.9" y1="547.4" x2="143.8" y2="547.4" stroke="#000" stroke-width="1.2"/>
<line x1="46.9" y1="547.4" x2="46.9" y2="552" stroke="#000" stroke-width="1.1"/>
<text x="45.4" y="562.63" font-size="9.3" text-anchor="middle" font-weight="bold" fill="#000">0</text>
<line x1="67.6" y1="547.4" x2="67.6" y2="552" stroke="#000" stroke-width="1.1"/>
<text x="67.7" y="562.63" font-size="9.3" text-anchor="middle" font-weight="bold" fill="#000">0.25</text>
<line x1="88.3" y1="547.4" x2="88.3" y2="552" stroke="#000" stroke-width="1.1"/>
<text x="88.9" y="562.63" font-size="9.3" text-anchor="middle" font-weight="bold" fill="#000">0.5</text>
<line x1="109" y1="547.4" x2="109" y2="552" stroke="#000" stroke-width="1.1"/>
<text x="108.7" y="562.63" font-size="9.3" text-anchor="middle" font-weight="bold" fill="#000">1</text>
<line x1="129.7" y1="547.4" x2="129.7" y2="552" stroke="#000" stroke-width="1.1"/>
<text x="130.2" y="562.63" font-size="9.3" text-anchor="middle" font-weight="bold" fill="#000">2</text>
<text x="94" y="574.27" font-size="9.7" text-anchor="middle" font-weight="bold" fill="#000">NaB (mM)</text>
<text x="14.6" y="500.37" font-size="9.7" text-anchor="middle" font-weight="bold" fill="#000" transform="rotate(-90 14.6 496.5)" stroke="#000" stroke-width="0.2">Relative expression</text>
<text x="77.2" y="441.67" font-size="9.7" text-anchor="middle" font-weight="bold" fill="#000">ACSL4</text>
<text x="67.6" y="519.71" font-size="9.7" text-anchor="middle" font-weight="normal" fill="#000" stroke="#000" stroke-width="0.2">**</text>
<text x="88.3" y="502.61" font-size="9.7" text-anchor="middle" font-weight="normal" fill="#000" stroke="#000" stroke-width="0.2">***</text>
<text x="109" y="466.31" font-size="9.7" text-anchor="middle" font-weight="normal" fill="#000" stroke="#000" stroke-width="0.2">***</text>
<text x="129.7" y="456.11" font-size="9.7" text-anchor="middle" font-weight="normal" fill="#000" stroke="#000" stroke-width="0.2">***</text>
<text x="168.9" y="413.47" font-size="9.7" text-anchor="start" font-weight="bold" fill="#000">J</text>
<rect x="212.6" y="475.1" width="13.6" height="72.3" fill="#000000"/>
<line x1="219.4" y1="475.1" x2="219.4" y2="473.6" stroke="#000000" stroke-width="0.9"/>
<line x1="216" y1="473.6" x2="222.8" y2="473.6" stroke="#000000" stroke-width="0.9"/>
<rect x="233.35" y="472.3" width="13.6" height="75.1" fill="#808000"/>
<line x1="240.15" y1="472.3" x2="240.15" y2="469.6" stroke="#808000" stroke-width="0.9"/>
<line x1="236.75" y1="469.6" x2="243.55" y2="469.6" stroke="#808000" stroke-width="0.9"/>
<rect x="254.1" y="470.4" width="13.6" height="77" fill="#005500"/>
<line x1="260.9" y1="470.4" x2="260.9" y2="466.5" stroke="#005500" stroke-width="0.9"/>
<line x1="257.5" y1="466.5" x2="264.3" y2="466.5" stroke="#005500" stroke-width="0.9"/>
<rect x="274.85" y="473.3" width="13.6" height="74.1" fill="#00008b"/>
<line x1="281.65" y1="473.3" x2="281.65" y2="470.9" stroke="#00008b" stroke-width="0.9"/>
<line x1="278.25" y1="470.9" x2="285.05" y2="470.9" stroke="#00008b" stroke-width="0.9"/>
<rect x="295.6" y="477" width="13.6" height="70.4" fill="#a00000"/>
<line x1="302.4" y1="477" x2="302.4" y2="475.4" stroke="#a00000" stroke-width="0.9"/>
<line x1="299" y1="475.4" x2="305.8" y2="475.4" stroke="#a00000" stroke-width="0.9"/>
<line x1="205.5" y1="437.82" x2="205.5" y2="547.98" stroke="#000" stroke-width="1.15"/>
<line x1="201.2" y1="438.4" x2="205.5" y2="438.4" stroke="#000" stroke-width="1.15"/>
<text x="200.3" y="442.13" font-size="9.3" text-anchor="end" font-weight="bold" fill="#000">1.5</text>
<line x1="201.2" y1="474.73" x2="205.5" y2="474.73" stroke="#000" stroke-width="1.15"/>
<text x="200.3" y="478.46" font-size="9.3" text-anchor="end" font-weight="bold" fill="#000">1.0</text>
<line x1="201.2" y1="511.07" x2="205.5" y2="511.07" stroke="#000" stroke-width="1.15"/>
<text x="200.3" y="514.8" font-size="9.3" text-anchor="end" font-weight="bold" fill="#000">0.5</text>
<line x1="201.2" y1="547.4" x2="205.5" y2="547.4" stroke="#000" stroke-width="1.15"/>
<text x="200.3" y="551.13" font-size="9.3" text-anchor="end" font-weight="bold" fill="#000">0.0</text>
<line x1="205" y1="547.4" x2="316.6" y2="547.4" stroke="#000" stroke-width="1.2"/>
<line x1="219.4" y1="547.4" x2="219.4" y2="552" stroke="#000" stroke-width="1.1"/>
<text x="218.4" y="562.13" font-size="9.3" text-anchor="middle" font-weight="bold" fill="#000">0</text>
<line x1="240.15" y1="547.4" x2="240.15" y2="552" stroke="#000" stroke-width="1.1"/>
<text x="238.15" y="562.13" font-size="9.3" text-anchor="middle" font-weight="bold" fill="#000">0.25</text>
<line x1="260.9" y1="547.4" x2="260.9" y2="552" stroke="#000" stroke-width="1.1"/>
<text x="260.9" y="562.13" font-size="9.3" text-anchor="middle" font-weight="bold" fill="#000">0.5</text>
<line x1="281.65" y1="547.4" x2="281.65" y2="552" stroke="#000" stroke-width="1.1"/>
<text x="281.65" y="562.13" font-size="9.3" text-anchor="middle" font-weight="bold" fill="#000">1</text>
<line x1="302.4" y1="547.4" x2="302.4" y2="552" stroke="#000" stroke-width="1.1"/>
<text x="302.4" y="562.13" font-size="9.3" text-anchor="middle" font-weight="bold" fill="#000">2</text>
<text x="266.2" y="573.37" font-size="9.7" text-anchor="middle" font-weight="bold" fill="#000">NaB (mM)</text>
<text x="178.7" y="501.07" font-size="9.7" text-anchor="middle" font-weight="bold" fill="#000" transform="rotate(-90 178.7 497.2)" stroke="#000" stroke-width="0.2">Relative expression</text>
<text x="255.6" y="441.97" font-size="9.7" text-anchor="middle" font-weight="bold" fill="#000">NRF2</text>
<text x="237.75" y="467.41" font-size="7" text-anchor="middle" font-weight="normal" fill="#000" stroke="#000" stroke-width="0.25">ns</text>
<text x="259.5" y="464.51" font-size="7" text-anchor="middle" font-weight="normal" fill="#000" stroke="#000" stroke-width="0.25">ns</text>
<text x="280.25" y="468.91" font-size="7" text-anchor="middle" font-weight="normal" fill="#000" stroke="#000" stroke-width="0.25">ns</text>
<text x="300.7" y="473.71" font-size="7" text-anchor="middle" font-weight="normal" fill="#000" stroke="#000" stroke-width="0.25">ns</text>
<text x="329.2" y="413.47" font-size="9.7" text-anchor="start" font-weight="bold" fill="#000">K</text>
<rect x="387" y="475.1" width="13.7" height="72.6" fill="#000000"/>
<line x1="393.85" y1="475.1" x2="393.85" y2="473.6" stroke="#000000" stroke-width="0.9"/>
<line x1="390.43" y1="473.6" x2="397.28" y2="473.6" stroke="#000000" stroke-width="0.9"/>
<rect x="407.75" y="478.3" width="13.7" height="69.4" fill="#808000"/>
<line x1="414.6" y1="478.3" x2="414.6" y2="477.5" stroke="#808000" stroke-width="0.9"/>
<line x1="411.18" y1="477.5" x2="418.03" y2="477.5" stroke="#808000" stroke-width="0.9"/>
<rect x="428.5" y="475.1" width="13.7" height="72.6" fill="#005500"/>
<line x1="435.35" y1="475.1" x2="435.35" y2="471.2" stroke="#005500" stroke-width="0.9"/>
<line x1="431.93" y1="471.2" x2="438.78" y2="471.2" stroke="#005500" stroke-width="0.9"/>
<rect x="449.25" y="474.6" width="13.7" height="73.1" fill="#00008b"/>
<line x1="456.1" y1="474.6" x2="456.1" y2="471.5" stroke="#00008b" stroke-width="0.9"/>
<line x1="452.68" y1="471.5" x2="459.53" y2="471.5" stroke="#00008b" stroke-width="0.9"/>
<rect x="470" y="478.6" width="13.7" height="69.1" fill="#a00000"/>
<line x1="476.85" y1="478.6" x2="476.85" y2="476.7" stroke="#a00000" stroke-width="0.9"/>
<line x1="473.43" y1="476.7" x2="480.28" y2="476.7" stroke="#a00000" stroke-width="0.9"/>
<line x1="379.9" y1="438.03" x2="379.9" y2="548.28" stroke="#000" stroke-width="1.15"/>
<line x1="375.6" y1="438.6" x2="379.9" y2="438.6" stroke="#000" stroke-width="1.15"/>
<text x="374.7" y="442.33" font-size="9.3" text-anchor="end" font-weight="bold" fill="#000">1.5</text>
<line x1="375.6" y1="474.97" x2="379.9" y2="474.97" stroke="#000" stroke-width="1.15"/>
<text x="374.7" y="478.7" font-size="9.3" text-anchor="end" font-weight="bold" fill="#000">1.0</text>
<line x1="375.6" y1="511.33" x2="379.9" y2="511.33" stroke="#000" stroke-width="1.15"/>
<text x="374.7" y="515.06" font-size="9.3" text-anchor="end" font-weight="bold" fill="#000">0.5</text>
<line x1="375.6" y1="547.7" x2="379.9" y2="547.7" stroke="#000" stroke-width="1.15"/>
<text x="374.7" y="551.43" font-size="9.3" text-anchor="end" font-weight="bold" fill="#000">0.0</text>
<line x1="379.4" y1="547.7" x2="490.8" y2="547.7" stroke="#000" stroke-width="1.2"/>
<line x1="393.85" y1="547.7" x2="393.85" y2="552.3" stroke="#000" stroke-width="1.1"/>
<text x="393.35" y="561.73" font-size="9.3" text-anchor="middle" font-weight="bold" fill="#000">0</text>
<line x1="414.6" y1="547.7" x2="414.6" y2="552.3" stroke="#000" stroke-width="1.1"/>
<text x="412.6" y="561.73" font-size="9.3" text-anchor="middle" font-weight="bold" fill="#000">0.25</text>
<line x1="435.35" y1="547.7" x2="435.35" y2="552.3" stroke="#000" stroke-width="1.1"/>
<text x="434.35" y="561.73" font-size="9.3" text-anchor="middle" font-weight="bold" fill="#000">0.5</text>
<line x1="456.1" y1="547.7" x2="456.1" y2="552.3" stroke="#000" stroke-width="1.1"/>
<text x="455.6" y="561.73" font-size="9.3" text-anchor="middle" font-weight="bold" fill="#000">1</text>
<line x1="476.85" y1="547.7" x2="476.85" y2="552.3" stroke="#000" stroke-width="1.1"/>
<text x="476.85" y="561.73" font-size="9.3" text-anchor="middle" font-weight="bold" fill="#000">2</text>
<text x="440.4" y="572.87" font-size="9.7" text-anchor="middle" font-weight="bold" fill="#000">NaB (mM)</text>
<text x="352.9" y="499.87" font-size="9.7" text-anchor="middle" font-weight="bold" fill="#000" transform="rotate(-90 352.9 496)" stroke="#000" stroke-width="0.2">Relative expression</text>
<text x="425.9" y="441.97" font-size="9.7" text-anchor="middle" font-weight="bold" fill="#000">p53</text>
<text x="414.6" y="473.71" font-size="7" text-anchor="middle" font-weight="normal" fill="#000" stroke="#000" stroke-width="0.25">ns</text>
<text x="435.35" y="469.71" font-size="7" text-anchor="middle" font-weight="normal" fill="#000" stroke="#000" stroke-width="0.25">ns</text>
<text x="456.1" y="468.91" font-size="7" text-anchor="middle" font-weight="normal" fill="#000" stroke="#000" stroke-width="0.25">ns</text>
<text x="476.85" y="473.71" font-size="7" text-anchor="middle" font-weight="normal" fill="#000" stroke="#000" stroke-width="0.25">ns</text>
<text x="527.9" y="413.47" font-size="9.7" text-anchor="start" font-weight="bold" fill="#000">L</text>
<rect x="562" y="475.1" width="13.7" height="72.3" fill="#000000"/>
<line x1="568.85" y1="475.1" x2="568.85" y2="473.6" stroke="#000000" stroke-width="0.9"/>
<line x1="565.42" y1="473.6" x2="572.28" y2="473.6" stroke="#000000" stroke-width="0.9"/>
<rect x="582.75" y="477.2" width="13.7" height="70.2" fill="#808000"/>
<line x1="589.6" y1="477.2" x2="589.6" y2="476.4" stroke="#808000" stroke-width="0.9"/>
<line x1="586.17" y1="476.4" x2="593.03" y2="476.4" stroke="#808000" stroke-width="0.9"/>
<rect x="603.5" y="474.1" width="13.7" height="73.3" fill="#005500"/>
<line x1="610.35" y1="474.1" x2="610.35" y2="472" stroke="#005500" stroke-width="0.9"/>
<line x1="606.92" y1="472" x2="613.78" y2="472" stroke="#005500" stroke-width="0.9"/>
<rect x="624.25" y="474.3" width="13.7" height="73.1" fill="#00008b"/>
<line x1="631.1" y1="474.3" x2="631.1" y2="471.7" stroke="#00008b" stroke-width="0.9"/>
<line x1="627.67" y1="471.7" x2="634.53" y2="471.7" stroke="#00008b" stroke-width="0.9"/>
<rect x="645" y="475.1" width="13.7" height="72.3" fill="#a00000"/>
<line x1="651.85" y1="475.1" x2="651.85" y2="470.9" stroke="#a00000" stroke-width="0.9"/>
<line x1="648.42" y1="470.9" x2="655.28" y2="470.9" stroke="#a00000" stroke-width="0.9"/>
<line x1="554.9" y1="437.53" x2="554.9" y2="547.98" stroke="#000" stroke-width="1.15"/>
<line x1="550.6" y1="438.1" x2="554.9" y2="438.1" stroke="#000" stroke-width="1.15"/>
<text x="549.7" y="441.83" font-size="9.3" text-anchor="end" font-weight="bold" fill="#000">1.5</text>
<line x1="550.6" y1="474.53" x2="554.9" y2="474.53" stroke="#000" stroke-width="1.15"/>
<text x="549.7" y="478.26" font-size="9.3" text-anchor="end" font-weight="bold" fill="#000">1.0</text>
<line x1="550.6" y1="510.97" x2="554.9" y2="510.97" stroke="#000" stroke-width="1.15"/>
<text x="549.7" y="514.7" font-size="9.3" text-anchor="end" font-weight="bold" fill="#000">0.5</text>
<line x1="550.6" y1="547.4" x2="554.9" y2="547.4" stroke="#000" stroke-width="1.15"/>
<text x="549.7" y="551.13" font-size="9.3" text-anchor="end" font-weight="bold" fill="#000">0.0</text>
<line x1="554.4" y1="547.4" x2="665.8" y2="547.4" stroke="#000" stroke-width="1.2"/>
<line x1="568.85" y1="547.4" x2="568.85" y2="552" stroke="#000" stroke-width="1.1"/>
<text x="567.85" y="561.73" font-size="9.3" text-anchor="middle" font-weight="bold" fill="#000">0</text>
<line x1="589.6" y1="547.4" x2="589.6" y2="552" stroke="#000" stroke-width="1.1"/>
<text x="587.1" y="561.73" font-size="9.3" text-anchor="middle" font-weight="bold" fill="#000">0.25</text>
<line x1="610.35" y1="547.4" x2="610.35" y2="552" stroke="#000" stroke-width="1.1"/>
<text x="609.85" y="561.73" font-size="9.3" text-anchor="middle" font-weight="bold" fill="#000">0.5</text>
<line x1="631.1" y1="547.4" x2="631.1" y2="552" stroke="#000" stroke-width="1.1"/>
<text x="631.1" y="561.73" font-size="9.3" text-anchor="middle" font-weight="bold" fill="#000">1</text>
<line x1="651.85" y1="547.4" x2="651.85" y2="552" stroke="#000" stroke-width="1.1"/>
<text x="651.85" y="561.73" font-size="9.3" text-anchor="middle" font-weight="bold" fill="#000">2</text>
<text x="615.4" y="572.87" font-size="9.7" text-anchor="middle" font-weight="bold" fill="#000">NaB (mM)</text>
<text x="525.5" y="499.87" font-size="9.7" text-anchor="middle" font-weight="bold" fill="#000" transform="rotate(-90 525.5 496)" stroke="#000" stroke-width="0.2">Relative expression</text>
<text x="604.3" y="442.77" font-size="9.7" text-anchor="middle" font-weight="bold" fill="#000">ALOX12</text>
<text x="589.6" y="473.71" font-size="7" text-anchor="middle" font-weight="normal" fill="#000" stroke="#000" stroke-width="0.25">ns</text>
<text x="610.35" y="469.71" font-size="7" text-anchor="middle" font-weight="normal" fill="#000" stroke="#000" stroke-width="0.25">ns</text>
<text x="631.1" y="468.91" font-size="7" text-anchor="middle" font-weight="normal" fill="#000" stroke="#000" stroke-width="0.25">ns</text>
<text x="651.85" y="468.91" font-size="7" text-anchor="middle" font-weight="normal" fill="#000" stroke="#000" stroke-width="0.25">ns</text>
<text x="0.3" y="220.77" font-size="9.7" text-anchor="start" font-weight="bold" fill="#000">E</text>
<rect x="33.6" y="290.1" width="12" height="78.1" fill="#000000"/>
<line x1="39.6" y1="290.1" x2="39.6" y2="288.5" stroke="#000000" stroke-width="0.9"/>
<line x1="36.6" y1="288.5" x2="42.6" y2="288.5" stroke="#000000" stroke-width="0.9"/>
<rect x="51.6" y="293" width="12" height="75.2" fill="#a00000"/>
<line x1="57.6" y1="293" x2="57.6" y2="290.6" stroke="#a00000" stroke-width="0.9"/>
<line x1="54.6" y1="290.6" x2="60.6" y2="290.6" stroke="#a00000" stroke-width="0.9"/>
<rect x="81.5" y="320" width="12.1" height="48.2" fill="#000000"/>
<line x1="87.55" y1="320" x2="87.55" y2="313.6" stroke="#000000" stroke-width="0.9"/>
<line x1="84.53" y1="313.6" x2="90.57" y2="313.6" stroke="#000000" stroke-width="0.9"/>
<rect x="99.7" y="344.9" width="12" height="23.3" fill="#a00000"/>
<line x1="105.7" y1="344.9" x2="105.7" y2="341.2" stroke="#a00000" stroke-width="0.9"/>
<line x1="102.7" y1="341.2" x2="108.7" y2="341.2" stroke="#a00000" stroke-width="0.9"/>
<rect x="130" y="297.5" width="12.1" height="70.7" fill="#000000"/>
<line x1="136.05" y1="297.5" x2="136.05" y2="294.3" stroke="#000000" stroke-width="0.9"/>
<line x1="133.03" y1="294.3" x2="139.08" y2="294.3" stroke="#000000" stroke-width="0.9"/>
<rect x="148.2" y="304.9" width="12.1" height="63.3" fill="#a00000"/>
<line x1="154.25" y1="304.9" x2="154.25" y2="302.5" stroke="#a00000" stroke-width="0.9"/>
<line x1="151.22" y1="302.5" x2="157.28" y2="302.5" stroke="#a00000" stroke-width="0.9"/>
<line x1="27.3" y1="249.62" x2="27.3" y2="368.77" stroke="#000" stroke-width="1.15"/>
<line x1="24.5" y1="250.2" x2="27.3" y2="250.2" stroke="#000" stroke-width="1.15"/>
<text x="23.3" y="256.34" font-size="9.6" text-anchor="end" font-weight="bold" fill="#000">1.5</text>
<line x1="24.5" y1="289.53" x2="27.3" y2="289.53" stroke="#000" stroke-width="1.15"/>
<text x="23.3" y="295.67" font-size="9.6" text-anchor="end" font-weight="bold" fill="#000">1.0</text>
<line x1="24.5" y1="328.87" x2="27.3" y2="328.87" stroke="#000" stroke-width="1.15"/>
<text x="23.3" y="335" font-size="9.6" text-anchor="end" font-weight="bold" fill="#000">0.5</text>
<line x1="24.5" y1="368.2" x2="27.3" y2="368.2" stroke="#000" stroke-width="1.15"/>
<text x="23.3" y="374.34" font-size="9.6" text-anchor="end" font-weight="bold" fill="#000">0.0</text>
<line x1="26.8" y1="368.2" x2="166.2" y2="368.2" stroke="#000" stroke-width="1.2"/>
<rect x="34.4" y="256.7" width="10.1" height="6.1" fill="#000000" rx="1.2" ry="1.2"/>
<text x="49" y="264.11" font-size="9.8" text-anchor="start" font-weight="bold" fill="#000">DMSO</text>
<rect x="86.8" y="256.7" width="10.1" height="6.1" fill="#b00000" rx="1.2" ry="1.2"/>
<text x="100.6" y="264.16" font-size="9.95" text-anchor="start" font-weight="bold" fill="#000">NaB (2 mM)</text>
<line x1="87.3" y1="306.2" x2="105.3" y2="306.2" stroke="#000" stroke-width="1"/>
<text x="96.6" y="306.97" font-size="9.7" text-anchor="middle" font-weight="normal" fill="#000" stroke="#000" stroke-width="0.2">***</text>
<line x1="101.9" y1="290.1" x2="151.7" y2="290.1" stroke="#000" stroke-width="1"/>
<text x="125.7" y="290.57" font-size="9.7" text-anchor="middle" font-weight="normal" fill="#000" stroke="#000" stroke-width="0.2">***</text>
<line x1="40.1" y1="376.3" x2="44.5" y2="376.3" stroke="#000" stroke-width="1.1"/>
<line x1="60" y1="376.3" x2="64.4" y2="376.3" stroke="#000" stroke-width="1.1"/>
<line x1="88.3" y1="376.3" x2="92.7" y2="376.3" stroke="#000" stroke-width="1.1"/>
<line x1="106.3" y1="376.3" x2="110.7" y2="376.3" stroke="#000" stroke-width="1.1"/>
<text x="137.1" y="380.58" font-size="10" text-anchor="middle" font-weight="bold" fill="#000">+</text>
<text x="157" y="380.58" font-size="10" text-anchor="middle" font-weight="bold" fill="#000">+</text>
<text x="170" y="380.37" font-size="9.7" text-anchor="start" font-weight="bold" fill="#000">NAC</text>
<line x1="40.1" y1="386.5" x2="44.5" y2="386.5" stroke="#000" stroke-width="1.1"/>
<line x1="60" y1="386.5" x2="64.4" y2="386.5" stroke="#000" stroke-width="1.1"/>
<text x="90.5" y="390.78" font-size="10" text-anchor="middle" font-weight="bold" fill="#000">+</text>
<text x="108.5" y="390.78" font-size="10" text-anchor="middle" font-weight="bold" fill="#000">+</text>
<text x="137.1" y="390.78" font-size="10" text-anchor="middle" font-weight="bold" fill="#000">+</text>
<text x="157" y="390.78" font-size="10" text-anchor="middle" font-weight="bold" fill="#000">+</text>
<text x="170" y="390.57" font-size="9.7" text-anchor="start" font-weight="bold" fill="#000">RSL3</text>
<text x="3.4" y="313.67" font-size="9.7" text-anchor="middle" font-weight="bold" fill="#000" transform="rotate(-90 3.4 309.8)" xml:space="preserve" stroke="#000" stroke-width="0.2">Cell  Viability</text>
<text x="194.9" y="220.77" font-size="9.7" text-anchor="start" font-weight="bold" fill="#000">F</text>
<rect x="232.4" y="288.2" width="11.9" height="76.8" fill="#000000"/>
<line x1="238.35" y1="288.2" x2="238.35" y2="280.6" stroke="#000000" stroke-width="0.9"/>
<line x1="235.38" y1="280.6" x2="241.33" y2="280.6" stroke="#000000" stroke-width="0.9"/>
<rect x="250.4" y="287.2" width="11.9" height="77.8" fill="#a00000"/>
<line x1="256.35" y1="287.2" x2="256.35" y2="281.9" stroke="#a00000" stroke-width="0.9"/>
<line x1="253.38" y1="281.9" x2="259.33" y2="281.9" stroke="#a00000" stroke-width="0.9"/>
<rect x="280.3" y="317.1" width="12" height="47.9" fill="#000000"/>
<line x1="286.3" y1="317.1" x2="286.3" y2="313.9" stroke="#000000" stroke-width="0.9"/>
<line x1="283.3" y1="313.9" x2="289.3" y2="313.9" stroke="#000000" stroke-width="0.9"/>
<rect x="298.6" y="344.3" width="11.9" height="20.7" fill="#a00000"/>
<line x1="304.55" y1="344.3" x2="304.55" y2="339.6" stroke="#a00000" stroke-width="0.9"/>
<line x1="301.58" y1="339.6" x2="307.52" y2="339.6" stroke="#a00000" stroke-width="0.9"/>
<rect x="328.8" y="301.2" width="11.9" height="63.8" fill="#000000"/>
<line x1="334.75" y1="301.2" x2="334.75" y2="298.3" stroke="#000000" stroke-width="0.9"/>
<line x1="331.77" y1="298.3" x2="337.73" y2="298.3" stroke="#000000" stroke-width="0.9"/>
<rect x="346.8" y="305.4" width="11.9" height="59.6" fill="#a00000"/>
<line x1="352.75" y1="305.4" x2="352.75" y2="303.6" stroke="#a00000" stroke-width="0.9"/>
<line x1="349.77" y1="303.6" x2="355.73" y2="303.6" stroke="#a00000" stroke-width="0.9"/>
<line x1="225.8" y1="246.93" x2="225.8" y2="365.57" stroke="#000" stroke-width="1.15"/>
<line x1="223" y1="247.5" x2="225.8" y2="247.5" stroke="#000" stroke-width="1.15"/>
<text x="221.8" y="253.04" font-size="9.6" text-anchor="end" font-weight="bold" fill="#000">1.5</text>
<line x1="223" y1="286.67" x2="225.8" y2="286.67" stroke="#000" stroke-width="1.15"/>
<text x="221.8" y="292.2" font-size="9.6" text-anchor="end" font-weight="bold" fill="#000">1.0</text>
<line x1="223" y1="325.83" x2="225.8" y2="325.83" stroke="#000" stroke-width="1.15"/>
<text x="221.8" y="331.37" font-size="9.6" text-anchor="end" font-weight="bold" fill="#000">0.5</text>
<line x1="223" y1="365" x2="225.8" y2="365" stroke="#000" stroke-width="1.15"/>
<text x="221.8" y="370.54" font-size="9.6" text-anchor="end" font-weight="bold" fill="#000">0.0</text>
<line x1="225.3" y1="365" x2="365" y2="365" stroke="#000" stroke-width="1.2"/>
<rect x="233.2" y="253.5" width="10.1" height="6.1" fill="#000000" rx="1.2" ry="1.2"/>
<text x="247.8" y="260.71" font-size="9.8" text-anchor="start" font-weight="bold" fill="#000">DMSO</text>
<rect x="285.6" y="253.5" width="10.1" height="6.1" fill="#b00000" rx="1.2" ry="1.2"/>
<text x="299.4" y="260.76" font-size="9.95" text-anchor="start" font-weight="bold" fill="#000">NaB (2 mM)</text>
<line x1="286.2" y1="302.8" x2="304.2" y2="302.8" stroke="#000" stroke-width="1"/>
<text x="292.8" y="304.07" font-size="9.7" text-anchor="middle" font-weight="normal" fill="#000" stroke="#000" stroke-width="0.2">***</text>
<line x1="300.7" y1="286.6" x2="350.5" y2="286.6" stroke="#000" stroke-width="1"/>
<text x="321.9" y="287.67" font-size="9.7" text-anchor="middle" font-weight="normal" fill="#000" stroke="#000" stroke-width="0.2">***</text>
<line x1="238.4" y1="373.2" x2="242.8" y2="373.2" stroke="#000" stroke-width="1.1"/>
<line x1="258" y1="373.2" x2="262.4" y2="373.2" stroke="#000" stroke-width="1.1"/>
<line x1="287.1" y1="373.2" x2="291.5" y2="373.2" stroke="#000" stroke-width="1.1"/>
<line x1="305.1" y1="373.2" x2="309.5" y2="373.2" stroke="#000" stroke-width="1.1"/>
<text x="335.9" y="377.48" font-size="10" text-anchor="middle" font-weight="bold" fill="#000">+</text>
<text x="355" y="377.48" font-size="10" text-anchor="middle" font-weight="bold" fill="#000">+</text>
<text x="368.8" y="377.27" font-size="9.7" text-anchor="start" font-weight="bold" fill="#000">NAC</text>
<line x1="238.4" y1="382.9" x2="242.8" y2="382.9" stroke="#000" stroke-width="1.1"/>
<line x1="258" y1="382.9" x2="262.4" y2="382.9" stroke="#000" stroke-width="1.1"/>
<text x="289.3" y="387.18" font-size="10" text-anchor="middle" font-weight="bold" fill="#000">+</text>
<text x="307.3" y="387.18" font-size="10" text-anchor="middle" font-weight="bold" fill="#000">+</text>
<text x="335.9" y="387.18" font-size="10" text-anchor="middle" font-weight="bold" fill="#000">+</text>
<text x="355" y="387.18" font-size="10" text-anchor="middle" font-weight="bold" fill="#000">+</text>
<text x="368.8" y="386.97" font-size="9.7" text-anchor="start" font-weight="bold" fill="#000">erastin</text>
<text x="201.5" y="315.27" font-size="9.7" text-anchor="middle" font-weight="bold" fill="#000" transform="rotate(-90 201.5 311.4)" xml:space="preserve" stroke="#000" stroke-width="0.2">Cell  Viability</text>
<text x="0.5" y="586.47" font-size="9.7" text-anchor="start" font-weight="bold" fill="#000">M</text>
<rect x="44.7" y="641.8" width="13.8" height="75.6" fill="#000000"/>
<line x1="51.6" y1="641.8" x2="51.6" y2="637.7" stroke="#000000" stroke-width="0.9"/>
<line x1="48.15" y1="637.7" x2="55.05" y2="637.7" stroke="#000000" stroke-width="0.9"/>
<rect x="64.9" y="671.3" width="13.9" height="46.1" fill="#00008b"/>
<line x1="71.85" y1="671.3" x2="71.85" y2="665.8" stroke="#00008b" stroke-width="0.9"/>
<line x1="68.38" y1="665.8" x2="75.32" y2="665.8" stroke="#00008b" stroke-width="0.9"/>
<rect x="85.3" y="700.5" width="13.9" height="16.9" fill="#a00000"/>
<line x1="92.25" y1="700.5" x2="92.25" y2="697.6" stroke="#a00000" stroke-width="0.9"/>
<line x1="88.78" y1="697.6" x2="95.72" y2="697.6" stroke="#a00000" stroke-width="0.9"/>
<rect x="119.7" y="641.8" width="13.8" height="75.6" fill="#000000"/>
<line x1="126.6" y1="641.8" x2="126.6" y2="638.6" stroke="#000000" stroke-width="0.9"/>
<line x1="123.15" y1="638.6" x2="130.05" y2="638.6" stroke="#000000" stroke-width="0.9"/>
<rect x="140.1" y="651.5" width="13.8" height="65.9" fill="#00008b"/>
<line x1="147" y1="651.5" x2="147" y2="646.5" stroke="#00008b" stroke-width="0.9"/>
<line x1="143.55" y1="646.5" x2="150.45" y2="646.5" stroke="#00008b" stroke-width="0.9"/>
<rect x="160.5" y="654.1" width="13.8" height="63.3" fill="#a00000"/>
<line x1="167.4" y1="654.1" x2="167.4" y2="649.4" stroke="#a00000" stroke-width="0.9"/>
<line x1="163.95" y1="649.4" x2="170.85" y2="649.4" stroke="#a00000" stroke-width="0.9"/>
<line x1="38" y1="599.82" x2="38" y2="717.98" stroke="#000" stroke-width="1.15"/>
<line x1="35.2" y1="600.4" x2="38" y2="600.4" stroke="#000" stroke-width="1.15"/>
<text x="34" y="604.24" font-size="9.6" text-anchor="end" font-weight="bold" fill="#000">1.5</text>
<line x1="35.2" y1="639.4" x2="38" y2="639.4" stroke="#000" stroke-width="1.15"/>
<text x="34" y="643.24" font-size="9.6" text-anchor="end" font-weight="bold" fill="#000">1.0</text>
<line x1="35.2" y1="678.4" x2="38" y2="678.4" stroke="#000" stroke-width="1.15"/>
<text x="34" y="682.24" font-size="9.6" text-anchor="end" font-weight="bold" fill="#000">0.5</text>
<line x1="35.2" y1="717.4" x2="38" y2="717.4" stroke="#000" stroke-width="1.15"/>
<text x="34" y="721.24" font-size="9.6" text-anchor="end" font-weight="bold" fill="#000">0.0</text>
<line x1="37.5" y1="717.4" x2="181" y2="717.4" stroke="#000" stroke-width="1.2"/>
<line x1="72.4" y1="665.5" x2="91.1" y2="665.5" stroke="#000" stroke-width="1"/>
<text x="80.3" y="666.47" font-size="9.7" text-anchor="middle" font-weight="normal" fill="#000" stroke="#000" stroke-width="0.2">***</text>
<line x1="69.2" y1="633.4" x2="147.4" y2="633.4" stroke="#000" stroke-width="1"/>
<text x="102.8" y="632.77" font-size="9.7" text-anchor="middle" font-weight="normal" fill="#000" stroke="#000" stroke-width="0.2">***</text>
<line x1="87" y1="622.6" x2="165.8" y2="622.6" stroke="#000" stroke-width="1"/>
<text x="123.2" y="621.47" font-size="9.7" text-anchor="middle" font-weight="normal" fill="#000" stroke="#000" stroke-width="0.2">***</text>
<line x1="49.8" y1="725.6" x2="54.2" y2="725.6" stroke="#000" stroke-width="1.1"/>
<text x="72.1" y="729.88" font-size="10" text-anchor="middle" font-weight="bold" fill="#000">+</text>
<text x="92" y="729.88" font-size="10" text-anchor="middle" font-weight="bold" fill="#000">+</text>
<line x1="124.2" y1="725.6" x2="128.6" y2="725.6" stroke="#000" stroke-width="1.1"/>
<text x="147.4" y="729.88" font-size="10" text-anchor="middle" font-weight="bold" fill="#000">+</text>
<text x="168.8" y="729.88" font-size="10" text-anchor="middle" font-weight="bold" fill="#000">+</text>
<text x="183.4" y="729.67" font-size="9.7" text-anchor="start" font-weight="bold" fill="#000">RSL3</text>
<line x1="49.8" y1="736.5" x2="54.2" y2="736.5" stroke="#000" stroke-width="1.1"/>
<line x1="69.9" y1="736.5" x2="74.3" y2="736.5" stroke="#000" stroke-width="1.1"/>
<text x="92" y="740.78" font-size="10" text-anchor="middle" font-weight="bold" fill="#000">+</text>
<line x1="124.2" y1="736.5" x2="128.6" y2="736.5" stroke="#000" stroke-width="1.1"/>
<line x1="145.2" y1="736.5" x2="149.6" y2="736.5" stroke="#000" stroke-width="1.1"/>
<text x="168.8" y="740.78" font-size="10" text-anchor="middle" font-weight="bold" fill="#000">+</text>
<text x="183.4" y="740.57" font-size="9.7" text-anchor="start" font-weight="bold" fill="#000">NaB</text>
<line x1="45.3" y1="741.5" x2="99.9" y2="741.5" stroke="#000" stroke-width="1"/>
<text x="73" y="753.87" font-size="9.7" text-anchor="middle" font-weight="bold" fill="#000">Vector</text>
<line x1="122" y1="741.5" x2="176.1" y2="741.5" stroke="#000" stroke-width="1"/>
<text x="144.2" y="753.87" font-size="9.7" text-anchor="middle" font-weight="bold" fill="#000">Flag-SLC7A11</text>
<text x="13.9" y="661.57" font-size="9.7" text-anchor="middle" font-weight="bold" fill="#000" transform="rotate(-90 13.9 657.7)" xml:space="preserve" stroke="#000" stroke-width="0.2">Cell  Viability</text>
<text x="217.6" y="586.47" font-size="9.7" text-anchor="start" font-weight="bold" fill="#000">N</text>
<rect x="255.4" y="639.8" width="13.6" height="77.6" fill="#000000"/>
<line x1="262.2" y1="639.8" x2="262.2" y2="638.3" stroke="#000000" stroke-width="0.9"/>
<line x1="258.8" y1="638.3" x2="265.6" y2="638.3" stroke="#000000" stroke-width="0.9"/>
<rect x="275.9" y="678" width="13.7" height="39.4" fill="#00008b"/>
<line x1="282.75" y1="678" x2="282.75" y2="669.3" stroke="#00008b" stroke-width="0.9"/>
<line x1="279.32" y1="669.3" x2="286.18" y2="669.3" stroke="#00008b" stroke-width="0.9"/>
<rect x="296" y="695.5" width="13.7" height="21.9" fill="#a00000"/>
<line x1="302.85" y1="695.5" x2="302.85" y2="693.5" stroke="#a00000" stroke-width="0.9"/>
<line x1="299.43" y1="693.5" x2="306.28" y2="693.5" stroke="#a00000" stroke-width="0.9"/>
<rect x="330.2" y="643" width="13.7" height="74.4" fill="#000000"/>
<line x1="337.05" y1="643" x2="337.05" y2="641.2" stroke="#000000" stroke-width="0.9"/>
<line x1="333.62" y1="641.2" x2="340.47" y2="641.2" stroke="#000000" stroke-width="0.9"/>
<rect x="350.6" y="648.2" width="13.7" height="69.2" fill="#00008b"/>
<line x1="357.45" y1="648.2" x2="357.45" y2="643.6" stroke="#00008b" stroke-width="0.9"/>
<line x1="354.03" y1="643.6" x2="360.88" y2="643.6" stroke="#00008b" stroke-width="0.9"/>
<rect x="371.1" y="651.5" width="13.7" height="65.9" fill="#a00000"/>
<line x1="377.95" y1="651.5" x2="377.95" y2="647.7" stroke="#a00000" stroke-width="0.9"/>
<line x1="374.53" y1="647.7" x2="381.38" y2="647.7" stroke="#a00000" stroke-width="0.9"/>
<line x1="248.4" y1="599.82" x2="248.4" y2="717.98" stroke="#000" stroke-width="1.15"/>
<line x1="245.6" y1="600.4" x2="248.4" y2="600.4" stroke="#000" stroke-width="1.15"/>
<text x="244.4" y="604.24" font-size="9.6" text-anchor="end" font-weight="bold" fill="#000">1.5</text>
<line x1="245.6" y1="639.4" x2="248.4" y2="639.4" stroke="#000" stroke-width="1.15"/>
<text x="244.4" y="643.24" font-size="9.6" text-anchor="end" font-weight="bold" fill="#000">1.0</text>
<line x1="245.6" y1="678.4" x2="248.4" y2="678.4" stroke="#000" stroke-width="1.15"/>
<text x="244.4" y="682.24" font-size="9.6" text-anchor="end" font-weight="bold" fill="#000">0.5</text>
<line x1="245.6" y1="717.4" x2="248.4" y2="717.4" stroke="#000" stroke-width="1.15"/>
<text x="244.4" y="721.24" font-size="9.6" text-anchor="end" font-weight="bold" fill="#000">0.0</text>
<line x1="247.9" y1="717.4" x2="391.4" y2="717.4" stroke="#000" stroke-width="1.2"/>
<line x1="282.6" y1="665.5" x2="302.2" y2="665.5" stroke="#000" stroke-width="1"/>
<text x="290.8" y="666.47" font-size="9.7" text-anchor="middle" font-weight="normal" fill="#000" stroke="#000" stroke-width="0.2">***</text>
<line x1="279.7" y1="633.4" x2="357.9" y2="633.4" stroke="#000" stroke-width="1"/>
<text x="313.2" y="632.77" font-size="9.7" text-anchor="middle" font-weight="normal" fill="#000" stroke="#000" stroke-width="0.2">***</text>
<line x1="297.8" y1="622.6" x2="376.6" y2="622.6" stroke="#000" stroke-width="1"/>
<text x="334" y="621.47" font-size="9.7" text-anchor="middle" font-weight="normal" fill="#000" stroke="#000" stroke-width="0.2">***</text>
<line x1="260.5" y1="725.6" x2="264.9" y2="725.6" stroke="#000" stroke-width="1.1"/>
<text x="282.6" y="729.88" font-size="10" text-anchor="middle" font-weight="bold" fill="#000">+</text>
<text x="303" y="729.88" font-size="10" text-anchor="middle" font-weight="bold" fill="#000">+</text>
<line x1="335" y1="725.6" x2="339.4" y2="725.6" stroke="#000" stroke-width="1.1"/>
<text x="358.5" y="729.88" font-size="10" text-anchor="middle" font-weight="bold" fill="#000">+</text>
<text x="379.5" y="729.88" font-size="10" text-anchor="middle" font-weight="bold" fill="#000">+</text>
<text x="393.8" y="729.67" font-size="9.7" text-anchor="start" font-weight="bold" fill="#000">erastin</text>
<line x1="260.5" y1="736.5" x2="264.9" y2="736.5" stroke="#000" stroke-width="1.1"/>
<line x1="280.4" y1="736.5" x2="284.8" y2="736.5" stroke="#000" stroke-width="1.1"/>
<text x="303" y="740.78" font-size="10" text-anchor="middle" font-weight="bold" fill="#000">+</text>
<line x1="335" y1="736.5" x2="339.4" y2="736.5" stroke="#000" stroke-width="1.1"/>
<line x1="356.3" y1="736.5" x2="360.7" y2="736.5" stroke="#000" stroke-width="1.1"/>
<text x="379.5" y="740.78" font-size="10" text-anchor="middle" font-weight="bold" fill="#000">+</text>
<text x="393.8" y="740.57" font-size="9.7" text-anchor="start" font-weight="bold" fill="#000">NaB</text>
<line x1="256.3" y1="741.5" x2="310.9" y2="741.5" stroke="#000" stroke-width="1"/>
<text x="284.6" y="753.87" font-size="9.7" text-anchor="middle" font-weight="bold" fill="#000">Vector</text>
<line x1="332.8" y1="741.5" x2="386.8" y2="741.5" stroke="#000" stroke-width="1"/>
<text x="354.8" y="753.87" font-size="9.7" text-anchor="middle" font-weight="bold" fill="#000">Flag-SLC7A11</text>
<text x="223.9" y="661.37" font-size="9.7" text-anchor="middle" font-weight="bold" fill="#000" transform="rotate(-90 223.9 657.5)" xml:space="preserve" stroke="#000" stroke-width="0.2">Cell  Viability</text>
</svg>
</body></html>
